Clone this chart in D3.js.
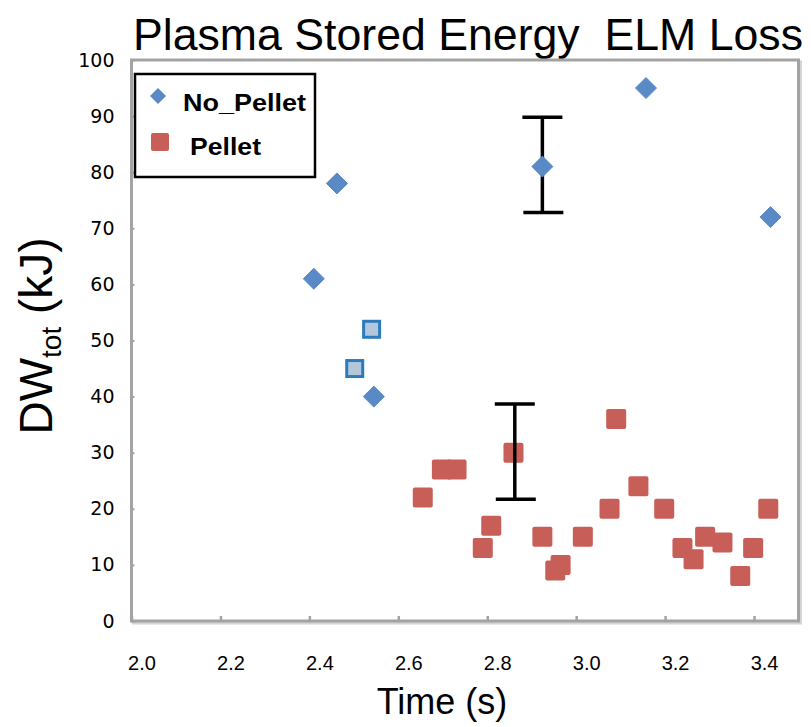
<!DOCTYPE html>
<html><head><meta charset="utf-8">
<script src="https://cdn.jsdelivr.net/npm/d3@7"></script>
<style>body{margin:0;background:#fff}</style>
</head><body>
<svg id="chart" width="811" height="727"></svg>
<script>
const xTicks = [2.0, 2.2, 2.4, 2.6, 2.8, 3.0, 3.2, 3.4];
const yTicks = [0, 10, 20, 30, 40, 50, 60, 70, 80, 90, 100];
const noPelletTime = [2.41, 2.462, 2.545, 2.924, 3.157, 3.437];
const noPelletDW   = [61, 78, 40, 81, 95, 72];
const pelletTime = [2.655, 2.698, 2.731, 2.859, 3.090, 2.809, 2.790, 2.924, 2.965, 2.953, 3.015,
                    3.075, 3.140, 3.198, 3.239, 3.264, 3.290, 3.329, 3.369, 3.398, 3.432];
const pelletDW   = [22, 27, 27, 30, 36, 17, 13, 15, 10, 9, 15,
                    20, 24, 20, 13, 11, 15, 14, 8, 13, 20];
const markedTime = [2.540, 2.502];
const markedDW   = [52, 45];
const errTime = [2.924, 2.862];
const errLow  = [72.8, 21.7];
const errHigh = [89.8, 38.7];
const seriesNames = ["No_Pellet", "Pellet"];

const svg = d3.select("#chart");
const x = d3.scaleLinear().domain([2.0, 3.5]).range([131.5, 798.5]);
const y = d3.scaleLinear().domain([0, 100]).range([621, 60]);

// title
svg.append("text").attr("x", 133).attr("y", 50)
  .attr("font-family", "Liberation Sans, Arial, sans-serif").attr("font-size", 44)
  .attr("textLength", 670).attr("lengthAdjust", "spacingAndGlyphs")
  .text("Plasma Stored Energy\u00a0 ELM Loss");

// frame shadow + frame
svg.append("rect").attr("x", x.range()[0] + 2).attr("y", y(100) + 2)
  .attr("width", x.range()[1] - x.range()[0]).attr("height", y(0) - y(100))
  .attr("fill", "none").attr("stroke", "#d4d4d4").attr("stroke-width", 3);
svg.append("rect").attr("x", x.range()[0]).attr("y", y(100))
  .attr("width", x.range()[1] - x.range()[0]).attr("height", y(0) - y(100))
  .attr("fill", "#fff").attr("stroke", "#a3a3a3").attr("stroke-width", 3);

// x axis
const xAxis = d3.axisBottom(x).tickValues(xTicks).tickSize(-5).tickFormat(d3.format(".1f"));
const gx = svg.append("g").attr("transform", `translate(0,${y(0)})`).call(xAxis);
gx.select(".domain").remove();
gx.selectAll(".tick line").attr("stroke", "#a3a3a3").attr("stroke-width", 2.5);
gx.selectAll(".tick text").attr("dx", 10).attr("y", 35)
  .attr("font-family", "Liberation Sans, Arial, sans-serif").attr("font-size", 20).attr("fill", "#000");

// y axis
const yAxis = d3.axisLeft(y).tickValues(yTicks).tickSize(-3).tickFormat(d3.format("d"));
const gy = svg.append("g").attr("transform", `translate(${x.range()[0]},0)`).call(yAxis);
gy.select(".domain").remove();
gy.selectAll(".tick line").attr("stroke", "#a3a3a3").attr("stroke-width", 2);
gy.selectAll(".tick text").attr("x", -17)
  .attr("font-family", "DejaVu Sans, Verdana, sans-serif").attr("font-size", 19).attr("fill", "#000");

// axis titles
svg.append("text").attr("x", 442).attr("y", 714).attr("text-anchor", "middle")
  .attr("font-family", "Liberation Sans, Arial, sans-serif").attr("font-size", 36)
  .text("Time (s)");
const yt = svg.append("text").attr("transform", "translate(52,336) rotate(-90)")
  .attr("text-anchor", "middle")
  .attr("font-family", "Liberation Sans, Arial, sans-serif").attr("font-size", 46);
yt.append("tspan").text("DW");
yt.append("tspan").attr("font-size", 28).attr("dy", 9).text("tot");
yt.append("tspan").attr("dy", -9).text("\u00a0(kJ)");

// pellet squares
const sq = 20;
svg.append("g").selectAll("rect").data(pelletTime).join("rect")
  .attr("x", (d) => x(d) - sq / 2).attr("y", (d, i) => y(pelletDW[i]) - sq / 2)
  .attr("width", sq).attr("height", sq).attr("rx", 2)
  .attr("fill", "#c75f58");

// marked squares
svg.append("g").selectAll("rect").data(markedTime).join("rect")
  .attr("x", (d) => x(d) - 8).attr("y", (d, i) => y(markedDW[i]) - 8)
  .attr("width", 16).attr("height", 16)
  .attr("fill", "#b3c6da").attr("stroke", "#2c7cbd").attr("stroke-width", 3);

// error bars
const eb = svg.append("g").attr("stroke", "#000").attr("stroke-width", 3.5);
errTime.forEach((t, i) => {
  eb.append("line").attr("x1", x(t)).attr("x2", x(t)).attr("y1", y(errLow[i])).attr("y2", y(errHigh[i]));
  eb.append("line").attr("x1", x(t) - 20).attr("x2", x(t) + 20).attr("y1", y(errHigh[i])).attr("y2", y(errHigh[i]));
  eb.append("line").attr("x1", x(t) - 19).attr("x2", x(t) + 21).attr("y1", y(errLow[i])).attr("y2", y(errLow[i]));
});

// diamonds
const dia = (cx, cy, r) => `M${cx},${cy - r}L${cx + r},${cy}L${cx},${cy + r}L${cx - r},${cy}Z`;
svg.append("g").selectAll("path").data(noPelletTime).join("path")
  .attr("d", (d, i) => dia(x(d), y(noPelletDW[i]), 10.5))
  .attr("fill", "#5a8ac6").attr("stroke", "#5a8ac6").attr("stroke-width", 1).attr("stroke-linejoin", "round");

// legend
const lg = svg.append("g");
lg.append("rect").attr("x", 135).attr("y", 74).attr("width", 180).attr("height", 103)
  .attr("fill", "#fff").attr("stroke", "#000").attr("stroke-width", 2.5);
lg.append("path").attr("d", dia(158, 96, 8)).attr("fill", "#5a8ac6");
lg.append("rect").attr("x", 151).attr("y", 133).attr("width", 18).attr("height", 18).attr("rx", 2).attr("fill", "#c75f58");
lg.append("text").attr("x", 183).attr("y", 111).attr("font-family", "Liberation Sans, Arial, sans-serif")
  .attr("font-weight", "bold").attr("font-size", 24).attr("textLength", 123).attr("lengthAdjust", "spacingAndGlyphs")
  .text(seriesNames[0]);
lg.append("text").attr("x", 190).attr("y", 155).attr("font-family", "Liberation Sans, Arial, sans-serif")
  .attr("font-weight", "bold").attr("font-size", 24).attr("textLength", 71).attr("lengthAdjust", "spacingAndGlyphs")
  .text(seriesNames[1]);
</script>
</body></html>
